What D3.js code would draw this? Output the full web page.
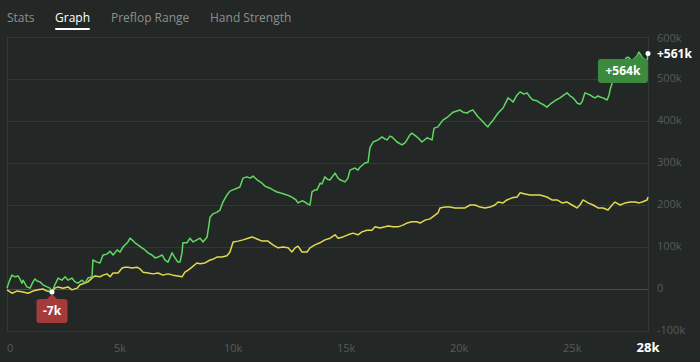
<!DOCTYPE html>
<html>
<head>
<meta charset="utf-8">
<script src="https://cdn.jsdelivr.net/npm/d3@7"></script>
<style>
  html, body { margin: 0; padding: 0; background: #232827; }
  svg { display: block; font-family: "Segoe UI", "Open Sans", "Noto Sans", sans-serif; }
</style>
</head>
<body>
<svg id="chart" width="700" height="362"></svg>
<script>
// tabs across the top
const tabs = ["Stats", "Graph", "Preflop Range", "Hand Strength"];
const activeTab = "Graph";

// axis ticks (hands in k, winnings in k)
const xTicks = [0, 5, 10, 15, 20, 25];
const xMaxLabel = "28k";
const yTicks = [-100, 0, 100, 200, 300, 400, 500, 600];

// green series: net won (hands in k, $ in k)
const greenHands = [0, 0.09, 0.22, 0.35, 0.49, 0.57, 0.66, 0.71, 0.80, 0.88, 1.02, 1.15, 1.24, 1.33, 1.46, 1.59, 1.77, 1.90, 1.99,
  2.12, 2.26, 2.43, 2.57, 2.70, 2.87, 3.01, 3.14, 3.32, 3.45, 3.58, 3.76, 3.80, 3.98, 4.11, 4.25, 4.42, 4.56, 4.69, 4.87, 5.00,
  5.13, 5.35, 5.44, 5.53, 5.66, 5.79, 5.97, 6.10, 6.24, 6.41, 6.55, 6.68, 6.86, 6.99, 7.12, 7.30, 7.43, 7.56, 7.65, 7.74, 7.78,
  7.96, 8.09, 8.23, 8.40, 8.54, 8.67, 8.85, 8.93, 8.98, 9.11, 9.29, 9.42, 9.55, 9.73, 9.86, 9.99, 10.17, 10.30, 10.44, 10.61,
  10.75, 10.88, 11.06, 11.28, 11.41, 11.50, 11.63, 11.76, 11.94, 12.07, 12.25, 12.38, 12.52, 12.65, 12.78, 12.87, 13.05, 13.18,
  13.31, 13.40, 13.49, 13.62, 13.71, 13.85, 13.93, 14.06, 14.20, 14.29, 14.51, 14.64, 14.73, 14.95, 15.08, 15.17, 15.30, 15.39,
  15.52, 15.61, 15.83, 15.97, 16.05, 16.19, 16.41, 16.59, 16.72, 16.81, 16.94, 17.03, 17.25, 17.47, 17.60, 17.69, 17.82, 17.91,
  18.13, 18.27, 18.35, 18.58, 18.80, 18.89, 19.06, 19.15, 19.28, 19.50, 19.73, 19.90, 20.04, 20.17, 20.35, 20.48, 20.61, 20.83,
  21.05, 21.19, 21.27, 21.36, 21.50, 21.72, 21.94, 22.07, 22.16, 22.29, 22.38, 22.56, 22.69, 22.87, 23.00, 23.13, 23.26, 23.44,
  23.57, 23.75, 23.88, 24.02, 24.15, 24.28, 24.46, 24.64, 24.77, 24.90, 24.99, 25.12, 25.21, 25.34, 25.43, 25.56, 25.70, 25.79,
  25.92, 26.01, 26.14, 26.23, 26.36, 26.54, 26.63, 26.67, 26.76, 26.85, 26.98, 27.12, 27.25, 27.38, 27.47, 27.61, 27.74, 27.87,
  27.95, 28.09, 28.22, 28.31, 28.35];
const greenWon = [2, 17, 33, 29, 31, 24, 14, 21, 12, 5, 2, 17, 24, 19, 17, 10, 5, 2, -7,
  10, 26, 21, 29, 21, 26, 17, 14, 21, 14, 26, 29, 69, 64, 62, 81, 83, 90, 81, 93, 88,
  100, 112, 121, 117, 110, 105, 98, 93, 86, 81, 74, 76, 81, 69, 64, 86, 74, 64, 64, 86, 110,
  110, 121, 112, 117, 121, 112, 124, 152, 171, 179, 183, 188, 207, 224, 233, 236, 240, 243, 264, 267,
  264, 269, 260, 252, 245, 243, 240, 236, 231, 229, 226, 224, 221, 217, 212, 205, 210, 207,
  202, 200, 231, 236, 236, 252, 250, 267, 260, 260, 276, 264, 260, 255, 264, 283, 286, 288,
  283, 290, 300, 302, 336, 350, 355, 362, 357, 355, 364, 362, 350, 343, 348, 355, 367, 371,
  362, 355, 350, 360, 355, 383, 386, 393, 402, 410, 421, 424, 426, 421, 419, 424, 426, 410,
  398, 390, 386, 393, 402, 419, 431, 445, 455, 450, 445, 462, 469, 464, 467, 457, 450, 448,
  443, 438, 433, 440, 445, 450, 455, 462, 467, 460, 457, 450, 443, 440, 445, 467, 464, 462,
  457, 455, 460, 457, 455, 450, 462, 474, 490, 507, 521, 531, 536, 550, 552, 545, 548, 555,
  564, 552, 545, 545, 561];

// yellow series (hands in k, $ in k)
const yellowHands = [0, 0.22, 0.44, 0.71, 0.93, 1.15, 1.37, 1.59, 1.77, 1.99, 2.12, 2.26, 2.48, 2.70, 2.87, 3.10, 3.23, 3.45,
  3.58, 3.76, 3.89, 4.11, 4.25, 4.42, 4.56, 4.69, 4.91, 5.09, 5.22, 5.35, 5.53, 5.75, 5.88, 6.02, 6.24, 6.46, 6.68, 6.90, 7.12,
  7.34, 7.56, 7.74, 7.87, 8.01, 8.18, 8.40, 8.54, 8.76, 8.98, 9.11, 9.29, 9.51, 9.73, 9.86, 10.00, 10.22, 10.44, 10.66, 10.84,
  11.06, 11.28, 11.54, 11.76, 11.99, 12.21, 12.43, 12.60, 12.74, 12.87, 13.05, 13.27, 13.40, 13.62, 13.84, 14.06, 14.29, 14.51,
  14.64, 14.86, 15.08, 15.30, 15.52, 15.70, 15.92, 16.14, 16.28, 16.50, 16.72, 16.85, 17.07, 17.29, 17.51, 17.69, 17.91, 18.13,
  18.27, 18.49, 18.71, 18.93, 19.06, 19.15, 19.37, 19.59, 19.81, 20.04, 20.26, 20.48, 20.70, 20.92, 21.14, 21.36, 21.58, 21.72,
  21.94, 22.11, 22.34, 22.56, 22.69, 22.91, 23.13, 23.35, 23.57, 23.88, 24.10, 24.33, 24.55, 24.77, 24.99, 25.21, 25.34, 25.48,
  25.70, 25.92, 26.14, 26.36, 26.58, 26.76, 26.89, 27.12, 27.34, 27.56, 27.78, 27.96, 28.09, 28.31, 28.35];
const yellowWon = [-2, -10, -5, -7, -10, -5, -2, 0, -5, -7, 2, 5, 2, 5, -2, 2, 10, 14,
  17, 26, 31, 29, 33, 36, 29, 38, 38, 50, 52, 52, 50, 52, 48, 40, 38, 36, 38, 33, 36,
  33, 31, 29, 40, 45, 52, 62, 60, 62, 69, 71, 76, 76, 79, 88, 112, 114, 117, 121, 124,
  119, 114, 114, 105, 98, 100, 98, 88, 98, 102, 88, 88, 98, 105, 110, 117, 121, 129,
  121, 124, 129, 133, 129, 136, 140, 140, 148, 145, 148, 150, 148, 148, 152, 157, 160, 160,
  157, 164, 167, 176, 181, 193, 195, 195, 193, 193, 193, 200, 200, 195, 193, 195, 200, 207,
  205, 212, 217, 219, 229, 226, 224, 224, 224, 219, 212, 212, 205, 207, 200, 193, 200, 212,
  205, 200, 193, 193, 188, 200, 207, 200, 205, 207, 207, 205, 207, 212, 219];

const svg = d3.select("#chart");
const W = 700, H = 362;
const plot = { left: 7, right: 648, top: 37, bottom: 331 };

const x = d3.scaleLinear().domain([0, 28.35]).range([plot.left, plot.right]);
const y = d3.scaleLinear().domain([-100, 600]).range([plot.bottom, plot.top]);

svg.append("rect").attr("width", W).attr("height", H).attr("fill", "#232827");

// tabs
const tabX = [7, 55, 111, 210];
tabs.forEach((t, i) => {
  const txt = svg.append("text")
    .text(t)
    .attr("x", tabX[i])
    .attr("y", 22)
    .attr("font-size", 12)
    .attr("fill", t === activeTab ? "#ffffff" : "#8b908e");
  if (t === activeTab) {
    const w = txt.node().getComputedTextLength();
    svg.append("rect")
      .attr("x", tabX[i]).attr("y", 28)
      .attr("width", w).attr("height", 2)
      .attr("rx", 1)
      .attr("fill", "#ffffff");
  }
});

// grid
svg.append("g")
  .selectAll("line")
  .data(yTicks)
  .join("line")
  .attr("x1", plot.left)
  .attr("x2", plot.right)
  .attr("y1", (d) => Math.round(y(d)) + 0.5)
  .attr("y2", (d) => Math.round(y(d)) + 0.5)
  .attr("stroke", (d) => (d === 0 ? "#4a504e" : "#323836"))
  .attr("stroke-width", 1);

// plot border
svg.append("rect")
  .attr("x", plot.left + 0.5)
  .attr("y", plot.top + 0.5)
  .attr("width", plot.right - plot.left)
  .attr("height", plot.bottom - plot.top)
  .attr("fill", "none")
  .attr("stroke", "#323836");

// y labels
svg.append("g")
  .selectAll("text")
  .data(yTicks)
  .join("text")
  .text((d) => (d === 0 ? "0" : d + "k"))
  .attr("x", plot.right + 9)
  .attr("y", (d) => y(d) + (d === 600 ? 2 : 0))
  .attr("dominant-baseline", "middle")
  .attr("font-size", 11)
  .attr("fill", "#555b59");

// x labels
svg.append("g")
  .selectAll("text")
  .data(xTicks)
  .join("text")
  .text((d) => (d === 0 ? "0" : d + "k"))
  .attr("x", (d) => x(d))
  .attr("y", 349)
  .attr("text-anchor", (d) => (d === 0 ? "start" : "middle"))
  .attr("dominant-baseline", "middle")
  .attr("font-size", 11)
  .attr("fill", "#555b59");

svg.append("text")
  .text(xMaxLabel)
  .attr("x", x(greenHands[greenHands.length - 1]))
  .attr("y", 349)
  .attr("text-anchor", "middle")
  .attr("dominant-baseline", "middle")
  .attr("font-size", 13)
  .attr("font-weight", "bold")
  .attr("fill", "#ffffff");

const line = d3.line().x((d) => x(d[0])).y((d) => y(d[1]));

svg.append("path")
  .datum(d3.zip(yellowHands, yellowWon))
  .attr("d", line)
  .attr("fill", "none")
  .attr("stroke", "#e3d94f")
  .attr("stroke-width", 1.5)
  .attr("stroke-linejoin", "round");

svg.append("path")
  .datum(d3.zip(greenHands, greenWon))
  .attr("d", line)
  .attr("fill", "none")
  .attr("stroke", "#5fd862")
  .attr("stroke-width", 1.5)
  .attr("stroke-linejoin", "round");

// min / max / end markers
const maxI = d3.maxIndex(greenWon);
const minI = d3.minIndex(greenWon);
const lastI = greenWon.length - 1;

function badge(i, fill, text, below) {
  const px = x(greenHands[i]);
  const py = y(greenWon[i]);
  const bw = below ? 31 : 50, bh = 24;
  const bx = below ? px - bw / 2 : px + 9 - bw;
  const by = below ? py + 7 : py + 7;
  const g = svg.append("g");
  g.append("path")
    .attr("d", `M${px - 6},${by + 1} L${px},${by - 5} L${px + 6},${by + 1} Z`)
    .attr("fill", fill);
  g.append("rect")
    .attr("x", bx).attr("y", by)
    .attr("width", bw).attr("height", bh)
    .attr("rx", 3)
    .attr("fill", fill);
  g.append("text")
    .text(text)
    .attr("x", bx + bw / 2)
    .attr("y", by + bh / 2 + 1)
    .attr("text-anchor", "middle")
    .attr("dominant-baseline", "middle")
    .attr("font-size", 12)
    .attr("font-weight", "bold")
    .attr("fill", "#ffffff");
}

badge(maxI, "#3b8a3e", "+" + greenWon[maxI] + "k", false);
badge(minI, "#a53a3b", greenWon[minI] + "k", true);

svg.append("circle")
  .attr("cx", x(greenHands[minI]))
  .attr("cy", y(greenWon[minI]))
  .attr("r", 2.5)
  .attr("fill", "#ffffff");

svg.append("circle")
  .attr("cx", x(greenHands[lastI]))
  .attr("cy", y(greenWon[lastI]))
  .attr("r", 2.5)
  .attr("fill", "#ffffff");

svg.append("text")
  .text("+" + greenWon[lastI] + "k")
  .attr("x", plot.right + 9)
  .attr("y", y(greenWon[lastI]) + 1)
  .attr("dominant-baseline", "middle")
  .attr("font-size", 12)
  .attr("font-weight", "bold")
  .attr("fill", "#ffffff");
</script>
</body>
</html>
